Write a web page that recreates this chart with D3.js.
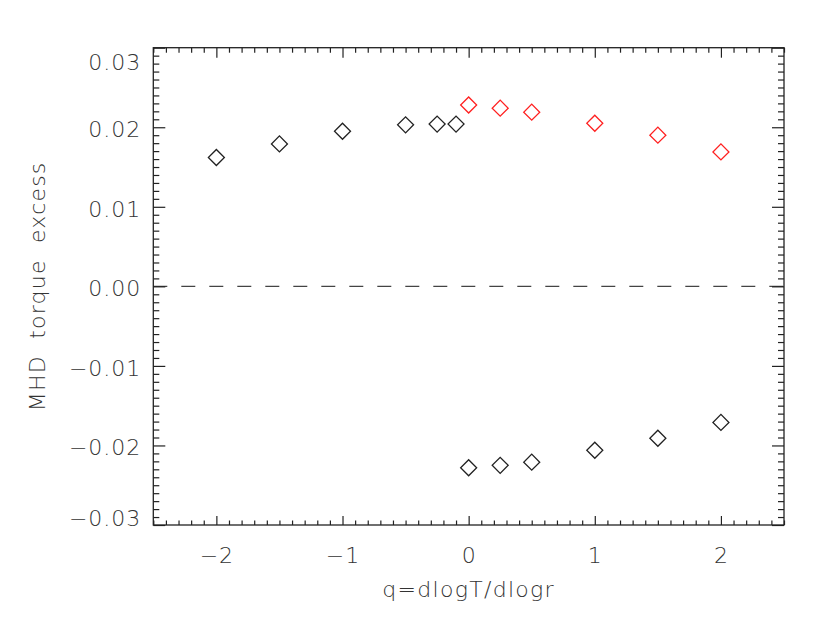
<!DOCTYPE html>
<html>
<head>
<meta charset="utf-8">
<script src="https://cdn.jsdelivr.net/npm/d3@7"></script>
<style>
    body { margin: 0; background: #fff; }
    text { font-family: "DejaVu Sans", sans-serif; font-weight: 200; fill: #333; }
</style>
</head>
<body>
<div id="chart"></div>
<script>
// data
let qPositive = [-2, -1.5, -1, -0.5, -0.25, -0.1];
let excessPositive = [0.0162, 0.0179, 0.0195, 0.0203, 0.0204, 0.0204];

let qRed = [0, 0.25, 0.5, 1, 1.5, 2];
let excessRed = [0.0228, 0.0224, 0.0219, 0.0205, 0.0190, 0.0169];

let qNegative = [0, 0.25, 0.5, 1, 1.5, 2];
let excessNegative = [-0.0228, -0.0225, -0.0221, -0.0206, -0.0191, -0.0171];

let xTicks = [-2, -1, 0, 1, 2];
let yTicks = [-0.03, -0.02, -0.01, 0.00, 0.01, 0.02, 0.03];

let xLabel = "q=dlogT/dlogr";
let yLabel = "MHD  torque  excess";

let width = 830, height = 623;
let margin = {top: 47.7, right: 46, bottom: 98, left: 153.3};
let w = width - margin.left - margin.right;
let h = height - margin.top - margin.bottom;

let svg = d3.select("#chart").append("svg")
    .attr("width", width)
    .attr("height", height);

let g = svg.append("g")
    .attr("transform", `translate(${margin.left}, ${margin.top})`);

// scales
let x = d3.scaleLinear().domain([-2.5, 2.5]).range([0, w]);
let y = d3.scaleLinear().domain([-0.03, 0.03]).range([h, 0]);

let xMinor = d3.range(-25, 26).map(d => d / 10).filter(d => !xTicks.includes(d));
let yMinor = d3.range(-30, 31).map(d => d / 1000).filter(d => Math.abs(d * 100 - Math.round(d * 100)) > 1e-6);

// zero line
g.append("line")
    .attr("x1", 0).attr("x2", w)
    .attr("y1", y(0)).attr("y2", y(0))
    .attr("stroke", "#444")
    .attr("stroke-width", 1.3)
    .attr("stroke-dasharray", "14,14");

// axes: major and minor ticks all pointing inward
function styleAxis(sel) {
    sel.select(".domain").remove();
    sel.selectAll("line").attr("stroke", "#222").attr("stroke-width", 1.2);
}

g.append("g").call(d3.axisLeft(y).tickValues(yMinor).tickSize(-6).tickFormat("")).call(styleAxis);
g.append("g").attr("transform", `translate(${w},0)`)
    .call(d3.axisRight(y).tickValues(yMinor).tickSize(-6).tickFormat("")).call(styleAxis);
g.append("g").attr("transform", `translate(${w},0)`)
    .call(d3.axisRight(y).tickValues(yTicks).tickSize(-12).tickFormat("")).call(styleAxis);

let yAxisG = g.append("g")
    .call(d3.axisLeft(y).tickValues(yTicks).tickSize(-12).tickPadding(12).tickFormat(d3.format(".2f")))
    .call(styleAxis);
yAxisG.selectAll("text")
    .attr("font-size", "22px")
    .attr("letter-spacing", "1px")
    .attr("dy", d => d === 0.03 ? "1.0em" : d === -0.03 ? "0.0em" : "0.42em");

g.append("g").attr("transform", `translate(0,${h})`)
    .call(d3.axisBottom(x).tickValues(xMinor).tickSize(-4.5).tickFormat("")).call(styleAxis);
g.append("g")
    .call(d3.axisTop(x).tickValues(xMinor).tickSize(-5).tickFormat("")).call(styleAxis);
g.append("g")
    .call(d3.axisTop(x).tickValues(xTicks).tickSize(-10).tickFormat("")).call(styleAxis);

let xAxisG = g.append("g").attr("transform", `translate(0,${h})`)
    .call(d3.axisBottom(x).tickValues(xTicks).tickSize(-9).tickPadding(22).tickFormat(d3.format("d")))
    .call(styleAxis);
xAxisG.selectAll("text").attr("font-size", "22px").attr("letter-spacing", "1px");

// frame
g.append("rect")
    .attr("width", w).attr("height", h)
    .attr("fill", "none")
    .attr("stroke", "#222")
    .attr("stroke-width", 1.3);

// diamonds
let diamond = d3.symbol().type(d3.symbolSquare).size(128);

function drawSeries(qs, vals, color) {
    g.append("g").selectAll("path")
        .data(qs.map((q, i) => ({q: q, v: vals[i]})))
        .enter().append("path")
        .attr("d", diamond)
        .attr("transform", d => `translate(${x(d.q)},${y(d.v)}) rotate(45)`)
        .attr("fill", "none")
        .attr("stroke", color)
        .attr("stroke-width", 1.3);
}

drawSeries(qPositive, excessPositive, "#222");
drawSeries(qRed, excessRed, "#ff2020");
drawSeries(qNegative, excessNegative, "#222");

// axis titles
svg.append("text")
    .attr("x", margin.left + w / 2)
    .attr("y", 597)
    .attr("text-anchor", "middle")
    .attr("font-size", "22px")
    .attr("letter-spacing", "1.3px")
    .style("white-space", "pre")
    .text(xLabel);

svg.append("text")
    .attr("transform", `translate(45, ${margin.top + h / 2}) rotate(-90)`)
    .attr("text-anchor", "middle")
    .attr("font-size", "22px")
    .attr("letter-spacing", "1.2px")
    .style("white-space", "pre")
    .text(yLabel);
</script>
</body>
</html>
